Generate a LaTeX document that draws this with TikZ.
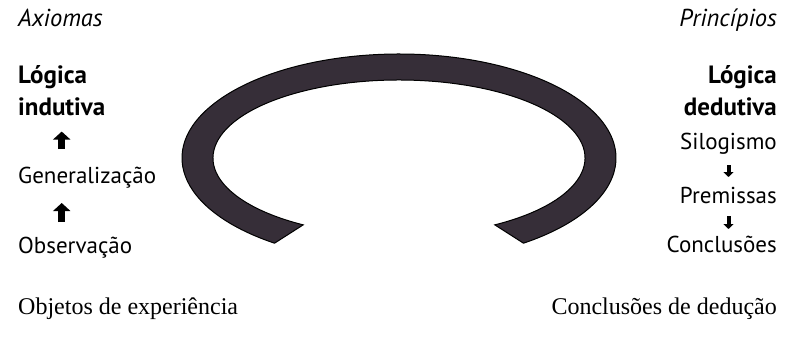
\documentclass[tikz,border=0pt]{standalone}
\usepackage{fontspec}
\setsansfont{PT Sans}
\setmainfont{Liberation Serif}
\usetikzlibrary{arrows.meta, positioning, calc}
\definecolor{ringdark}{RGB}{54,46,56}

\begin{document}
\begin{tikzpicture}[x=1pt, y=1pt,
        lbl/.style={inner sep=0pt, font=\sffamily\fontsize{23}{32}\selectfont},
        title/.style={lbl, font=\sffamily\bfseries\fontsize{25}{32}\selectfont},
        side/.style={lbl, font=\sffamily\itshape\fontsize{24.5}{32}\selectfont},
        foot/.style={inner sep=0pt, font=\rmfamily\fontsize{24}{28}\selectfont},
        uparr/.style={line width=7pt, -{Triangle[width=17pt,length=8pt]}},
        downarr/.style={line width=4pt, -{Triangle[width=10pt,length=5pt]}}
      ]
        \useasboundingbox (0,0) rectangle (794,-340);
        % ring
        \coordinate (ctr) at (399,-158);
        \filldraw[fill=ringdark, draw=black, line width=1pt]
          ([shift={(235:217pt and 104pt)}]ctr)
            arc[start angle=235, end angle=-55, x radius=217pt, y radius=104pt]
            -- ([shift={(-59:186pt and 78pt)}]ctr)
            arc[start angle=-59, end angle=239, x radius=186pt, y radius=78pt]
            -- cycle;
        % left column
        \node[side, anchor=base west] (axi) at (18,-27) {Axiomas};
        \node[title, anchor=base west, align=left] (lind) at (18,-115) {Lógica\\indutiva};
        \node[lbl, anchor=base west] (gen) at (18,-183) {Generalização};
        \node[lbl, anchor=base west] (obs) at (18,-253) {Observação};
        \draw[uparr, shorten <=34pt, shorten >=16pt] (gen.base -| lind.south) -- (lind.south);
        \draw[uparr, shorten <=31pt, shorten >=20pt] (obs.base -| lind.south) -- (gen.base -| lind.south);
        % right column
        \node[side, anchor=base east] (prin) at (777,-27) {Princípios};
        \node[title, anchor=base east, align=right] (lded) at (777,-115) {Lógica\\dedutiva};
        \node[lbl, anchor=base east] (silo) at (777,-149) {Silogismo};
        \node[lbl, anchor=base east] (prem) at (777,-203) {Premissas};
        \node[lbl, anchor=base east] (conc) at (777,-252) {Conclusões};
        \draw[downarr, shorten <=16pt, shorten >=26pt] (silo.base) -- (prem.base -| silo.base);
        \draw[downarr, shorten <=13pt, shorten >=23pt] (prem.base -| silo.base) -- (conc.base -| silo.base);
        % bottom
        \node[foot, anchor=base west] (obj) at (18,-314) {Objetos de experiência};
        \node[foot, anchor=base east] (cded) at (777,-314) {Conclusões de dedução};
      \end{tikzpicture}
\end{document}
